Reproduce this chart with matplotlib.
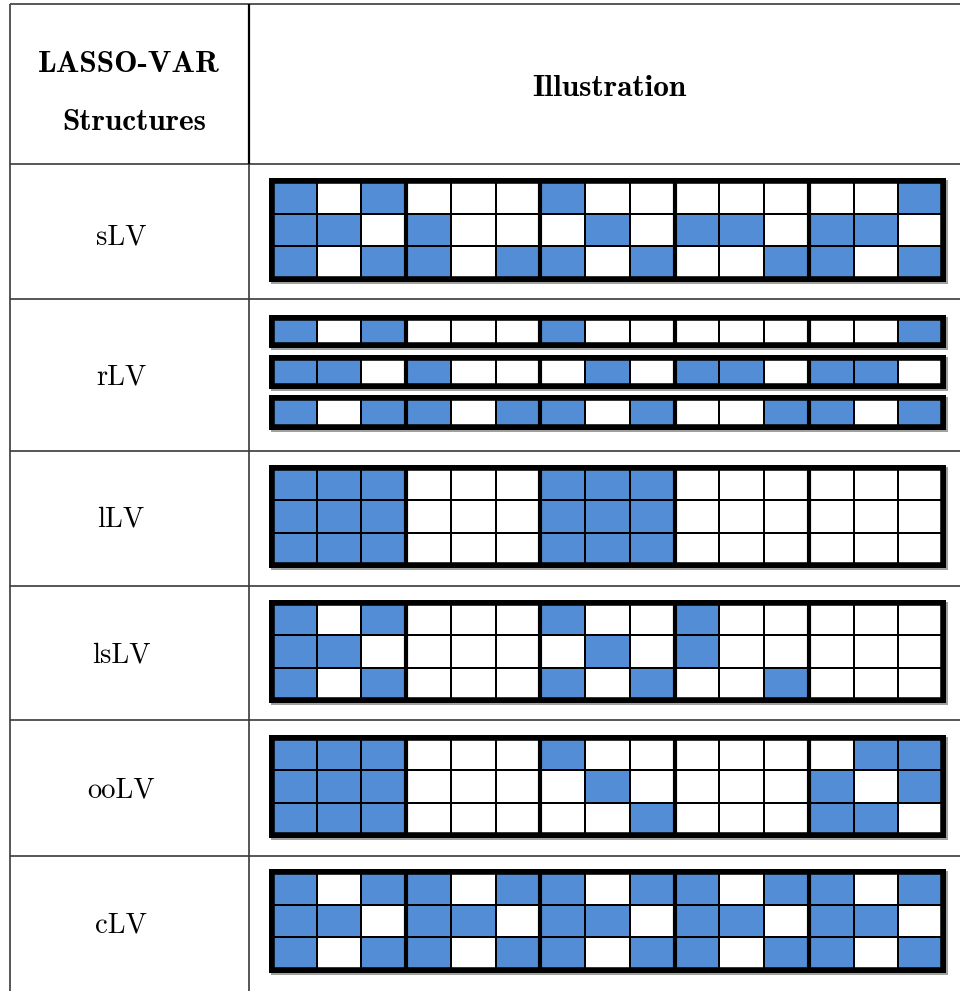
import numpy as np
import matplotlib
matplotlib.use("Agg")
import matplotlib.pyplot as plt
from matplotlib.colors import ListedColormap
from matplotlib.patches import Rectangle

# ---------------- data ----------------
structures = ["sLV", "rLV", "lLV", "lsLV", "ooLV", "cLV"]
header_left = ["LASSO-VAR", "Structures"]
header_right = "Illustration"

# 1 = nonzero (blue), 0 = zero (white); 3 rows x 15 columns (5 lag blocks of 3x3)
sLV = ["101000100000001",
       "110100010110110",
       "101101101001101"]
rLV = ["101000100000001",
       "110100010110110",
       "101101101001101"]
lLV = ["111000111000000",
       "111000111000000",
       "111000111000000"]
lsLV = ["101000100100000",
        "110000010100000",
        "101000101001000"]
ooLV = ["111000100000011",
        "111000010000101",
        "111000001000110"]
cLV = ["101101101101101",
       "110110110110110",
       "101101101101101"]
patterns = [sLV, rLV, lLV, lsLV, ooLV, cLV]

# ---------------- layout (pixels) ----------------
W, H = 960, 991
row_lines = [164, 299, 451, 586, 720, 856]
label_y = [237, 377, 519, 655, 790, 925]
bar_x0, bar_x1 = 269, 946
bar_spans = {
    "sLV": [(178, 282)],
    "rLV": [(315, 348), (355, 389), (395, 430)],
    "lLV": [(465, 568)],
    "lsLV": [(600, 703)],
    "ooLV": [(735, 838)],
    "cLV": [(869, 973)],
}
blue = "#538DD5"
cmap = ListedColormap(["white", blue])

def to_arr(p):
    return np.array([[int(c) for c in r] for r in p])

plt.rcParams["font.family"] = ["cmr10", "DejaVu Serif"]
plt.rcParams["axes.formatter.use_mathtext"] = True

fig = plt.figure(figsize=(W / 100, H / 100), dpi=100)
bg = fig.add_axes([0, 0, 1, 1])
bg.set_xlim(0, W)
bg.set_ylim(H, 0)
bg.axis("off")

# table lines
lc = "#3a3a3a"
bg.hlines([4] + row_lines, 10, W, color=lc, lw=1.2)
bg.vlines(10, 4, H, color=lc, lw=1.2)
bg.vlines(249, 4, 164, color="black", lw=1.6)
bg.vlines(249, 164, H, color=lc, lw=1.2)

# header text
bold = ["cmb10", "DejaVu Serif"]
bg.text(129, 65, header_left[0], ha="center", va="center",
        family=bold, fontsize=22.5)
bg.text(134, 123, header_left[1], ha="center", va="center",
        family=bold, fontsize=22.5)
bg.text(609, 88, header_right, ha="center", va="center",
        family=bold, fontsize=22.5)

frame_lw = 4.0
half = frame_lw * 100 / 72 / 2

def draw_bar(arr, top, bottom):
    # shadow and frame backing
    bg.add_patch(Rectangle((bar_x0 + 2, top + 2), bar_x1 - bar_x0, bottom - top,
                           facecolor="#a0a0a0", edgecolor="none", zorder=1))
    bg.add_patch(Rectangle((bar_x0, top), bar_x1 - bar_x0, bottom - top,
                           facecolor="black", edgecolor="none", zorder=1))
    x0 = bar_x0 + half
    x1 = bar_x1 - half
    y0 = top + half
    y1 = bottom - half
    ax = fig.add_axes([x0 / W, 1 - y1 / H, (x1 - x0) / W, (y1 - y0) / H])
    nr, nc = arr.shape
    ax.pcolormesh(arr, cmap=cmap, vmin=0, vmax=1, edgecolors="black",
                  linewidth=1.2)
    ax.vlines(np.arange(3, nc, 3), 0, nr, color="black", lw=3.0)
    ax.set_xlim(0, nc)
    ax.set_ylim(nr, 0)
    ax.set_xticks([])
    ax.set_yticks([])
    for s in ax.spines.values():
        s.set_linewidth(frame_lw)
        s.set_color("black")

for name, pat, ly in zip(structures, patterns, label_y):
    arr = to_arr(pat)
    bg.text(121, ly, name, ha="center", va="center", fontsize=20.5)
    spans = bar_spans[name]
    if len(spans) == 1:
        draw_bar(arr, *spans[0])
    else:
        for i, (t, b) in enumerate(spans):
            draw_bar(arr[i:i + 1], t, b)

fig.savefig("out.png", dpi=100)
